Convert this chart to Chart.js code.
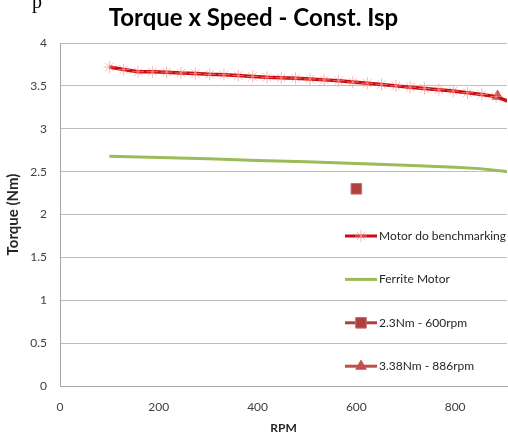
<!DOCTYPE html>
<html lang="en">
<head>
  <meta charset="UTF-8" />
  <title>Torque x Speed - Const. Isp</title>
  <script src="https://cdn.jsdelivr.net/npm/chart.js"></script>
  <style>
    html, body { margin: 0; padding: 0; background: #fff; }
    .wrap { position: relative; width: 508px; height: 435px; overflow: hidden; }
    .frag {
      position: absolute; left: 32px; top: -9px;
      font: 20px/20px "Liberation Serif", serif; color: #000;
    }
  </style>
</head>
<body>
  <div class="wrap">
    <canvas id="torqueChart" width="508" height="435"></canvas>
    <div class="frag">p</div>
  </div>

  <script>
    // Benchmark motor curve (star markers)
    const rpmBench = [100, 129, 158, 187, 216, 245, 274, 303, 332, 361, 390, 419, 448, 477, 506,
                      535, 564, 593, 622, 651, 680, 709, 738, 767, 796, 825, 854, 883, 912];
    const torqueBench = [3.72, 3.69, 3.665, 3.665, 3.66, 3.65, 3.645, 3.635, 3.63, 3.62, 3.61, 3.60, 3.595, 3.59, 3.58,
                         3.57, 3.56, 3.545, 3.53, 3.515, 3.50, 3.485, 3.47, 3.455, 3.44, 3.42, 3.40, 3.375, 3.31];

    // Ferrite motor curve
    const rpmFerrite = [100, 200, 300, 400, 500, 600, 700, 800, 850, 900, 912];
    const torqueFerrite = [2.68, 2.665, 2.65, 2.63, 2.615, 2.595, 2.575, 2.55, 2.535, 2.505, 2.49];

    // single operating points
    const rpm600 = [600];
    const torque600 = [2.3];
    const rpm886 = [886];
    const torque886 = [3.38];

    const xTicks = [0, 200, 400, 600, 800];
    const yTicks = [0, 0.5, 1, 1.5, 2, 2.5, 3, 3.5, 4];

    const toPoints = (xs, ys) => xs.map((x, i) => ({ x: x, y: ys[i] }));

    // Excel-style legend drawn inside the plot
    const insideLegend = {
      id: 'insideLegend',
      afterDraw(chart) {
        const ctx = chart.ctx;
        ctx.save();
        chart.data.datasets.forEach((ds, i) => {
          const y = 236 + i * 43.4;
          ctx.strokeStyle = ds.borderColor;
          ctx.lineWidth = 3;
          ctx.beginPath();
          ctx.moveTo(345, y);
          ctx.lineTo(377, y);
          ctx.stroke();
          if (ds.pointRadius > 0) {
            ctx.fillStyle = ds.pointBackgroundColor;
            ctx.strokeStyle = ds.pointBorderColor;
            ctx.lineWidth = ds.pointBorderWidth;
            Chart.helpers.drawPoint(ctx, {
              pointStyle: ds.pointStyle,
              radius: ds.pointRadius,
              rotation: 0,
              borderWidth: ds.pointBorderWidth
            }, 361, y);
          }
          ctx.fillStyle = '#262626';
          ctx.font = '12px Lato';
          ctx.textBaseline = 'middle';
          ctx.textAlign = 'left';
          ctx.fillText(ds.label, 379, y);
        });
        ctx.restore();
      }
    };

    new Chart(document.getElementById('torqueChart'), {
      type: 'scatter',
      data: {
        datasets: [{
          label: 'Motor do benchmarking',
          data: toPoints(rpmBench, torqueBench),
          showLine: true,
          borderColor: '#cc0c0c',
          borderWidth: 3.5,
          pointStyle: 'star',
          pointRadius: 6,
          pointBorderWidth: 1,
          pointBorderColor: 'rgba(242,150,150,0.7)',
          pointBackgroundColor: 'rgba(242,150,150,0.7)'
        }, {
          label: 'Ferrite Motor',
          data: toPoints(rpmFerrite, torqueFerrite),
          showLine: true,
          borderColor: '#9bbb59',
          borderWidth: 3,
          pointRadius: 0
        }, {
          label: '2.3Nm - 600rpm',
          data: toPoints(rpm600, torque600),
          borderColor: '#b0403c',
          pointStyle: 'rect',
          pointRadius: 7.5,
          pointBorderWidth: 1,
          pointBorderColor: '#c86e6a',
          pointBackgroundColor: '#b0403c'
        }, {
          label: '3.38Nm - 886rpm',
          data: toPoints(rpm886, torque886),
          borderColor: '#c0504d',
          pointStyle: 'triangle',
          pointRadius: 6,
          pointBorderWidth: 1,
          pointBorderColor: '#c0504d',
          pointBackgroundColor: '#c0504d'
        }]
      },
      options: {
        responsive: false,
        animation: false,
        layout: { autoPadding: false, padding: { top: 0, right: 1, left: 0, bottom: 0 } },
        plugins: {
          legend: { display: false },
          tooltip: { enabled: false },
          title: {
            display: true,
            text: 'Torque x Speed - Const. Isp',
            color: '#000',
            font: { family: 'Lato', size: 24, weight: 'bold' },
            padding: { top: 4, bottom: 10.2 }
          }
        },
        scales: {
          x: {
            type: 'linear',
            min: 0,
            max: 905,
            afterBuildTicks: (scale) => { scale.ticks = xTicks.map(v => ({ value: v })); },
            afterFit: (scale) => { scale.height = 49; scale.paddingLeft = 0; scale.paddingRight = 0; },
            grid: { drawOnChartArea: false, drawTicks: false },
            border: { color: '#a6a6a6', width: 1 },
            ticks: { padding: 14, color: '#404040', font: { family: 'Lato', size: 12 } },
            title: {
              display: true, text: 'RPM', color: '#262626',
              font: { family: 'Lato', size: 12, weight: 'bold' },
              padding: { top: 0, bottom: 0 }
            }
          },
          y: {
            min: 0,
            max: 4,
            afterBuildTicks: (scale) => { scale.ticks = yTicks.map(v => ({ value: v })); },
            afterFit: (scale) => { scale.width = 60; },
            grid: { color: '#bfbfbf', drawTicks: false },
            border: { color: '#a6a6a6', width: 1 },
            ticks: {
              padding: 13, color: '#404040', font: { family: 'Lato', size: 12 },
              callback: (v) => String(v)
            },
            title: {
              display: true, text: 'Torque (Nm)', color: '#262626',
              font: { family: 'Lato', size: 15, weight: 'bold' },
              padding: { top: 4, bottom: 0 }
            }
          }
        }
      },
      plugins: [insideLegend]
    });
  </script>
</body>
</html>
